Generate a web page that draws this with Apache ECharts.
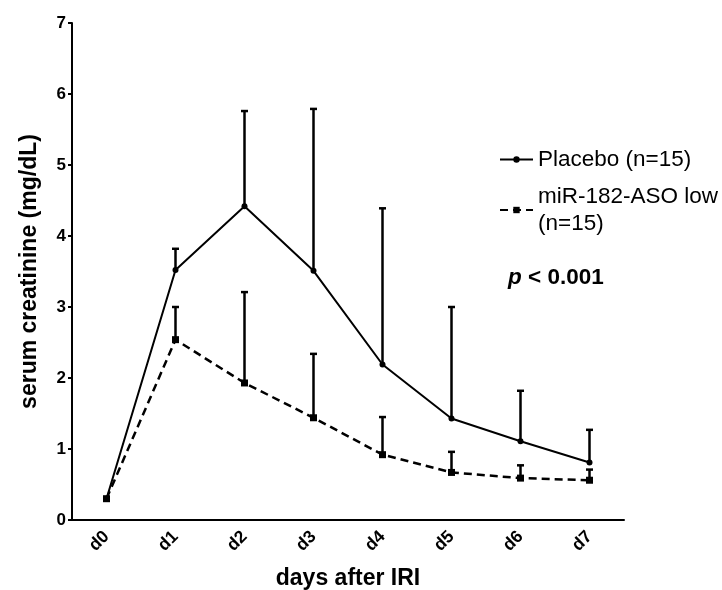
<!DOCTYPE html>
<html>
<head>
<meta charset="utf-8">
<script src="https://cdn.jsdelivr.net/npm/echarts@6/dist/echarts.min.js"></script>
<style>
  html, body { margin: 0; padding: 0; background: #fff; }
  #chart { width: 722px; height: 590px; }
</style>
</head>
<body>
<div id="chart"></div>
<script>
// Serum creatinine after ischemia-reperfusion injury, mean with upper SD bar
const days = ['d0', 'd1', 'd2', 'd3', 'd4', 'd5', 'd6', 'd7'];
const placeboMean = [0.30, 3.52, 4.42, 3.51, 2.19, 1.43, 1.11, 0.81];
const placeboUpper = [0.30, 3.82, 5.76, 5.79, 4.39, 3.00, 1.82, 1.27];
const asoMean = [0.30, 2.54, 1.93, 1.44, 0.92, 0.67, 0.59, 0.56];
const asoUpper = [0.30, 3.00, 3.21, 2.34, 1.45, 0.96, 0.77, 0.71];
const yTicks = [0, 1, 2, 3, 4, 5, 6, 7];

const FONT = '"Liberation Sans", Arial, sans-serif';

function errorSeries(name, means, uppers) {
  return {
    type: 'custom',
    name: name + ' SD',
    z: 1,
    silent: true,
    data: means.map((m, i) => [i, m, uppers[i]]),
    renderItem(params, api) {
      const base = api.coord([api.value(0), api.value(1)]);
      const top = api.coord([api.value(0), api.value(2)]);
      if (Math.abs(base[1] - top[1]) < 1) return null;
      const cap = 3.5;
      const style = { stroke: '#000', lineWidth: 2.5 };
      return {
        type: 'group',
        children: [
          { type: 'line', shape: { x1: base[0], y1: base[1], x2: top[0], y2: top[1] }, style },
          { type: 'line', shape: { x1: top[0] - cap, y1: top[1], x2: top[0] + cap, y2: top[1] }, style }
        ]
      };
    }
  };
}

const chart = echarts.init(document.getElementById('chart'));
chart.setOption({
  animation: false,
  backgroundColor: '#fff',
  textStyle: { fontFamily: FONT },
  grid: { left: 72, right: 98, top: 23, bottom: 70, outerBoundsMode: 'none', containLabel: false },
  legend: {
    orient: 'vertical',
    left: 494,
    top: 141,
    itemWidth: 33,
    itemHeight: 8,
    itemGap: 10,
    selectedMode: false,
    textStyle: { fontFamily: FONT, fontSize: 22.5, color: '#000', lineHeight: 27 },
    data: [
      { name: 'Placebo (n=15)' },
      { name: 'miR-182-ASO low\n(n=15)' }
    ]
  },
  xAxis: {
    type: 'category',
    data: days,
    boundaryGap: true,
    name: 'days after IRI',
    nameLocation: 'middle',
    nameGap: 47,
    nameTextStyle: { fontFamily: FONT, fontSize: 23, fontWeight: 'bold', color: '#000' },
    axisLine: { lineStyle: { color: '#000', width: 2 } },
    axisTick: { alignWithLabel: true, length: 5, lineStyle: { color: '#000', width: 2 } },
    axisLabel: {
      rotate: 45, margin: 14, color: '#000',
      fontFamily: FONT, fontSize: 17.5, fontWeight: 'bold'
    }
  },
  yAxis: {
    type: 'value',
    min: yTicks[0],
    max: yTicks[yTicks.length - 1],
    interval: 1,
    name: 'serum creatinine (mg/dL)',
    nameLocation: 'middle',
    nameGap: 31,
    nameTextStyle: { fontFamily: FONT, fontSize: 23, fontWeight: 'bold', color: '#000' },
    splitLine: { show: false },
    axisLine: { show: true, lineStyle: { color: '#000', width: 2 } },
    axisTick: { show: true, length: 4, lineStyle: { color: '#000', width: 2 } },
    axisLabel: {
      margin: 6, color: '#000',
      fontFamily: FONT, fontSize: 17, fontWeight: 'bold'
    }
  },
  series: [
    errorSeries('Placebo', placeboMean, placeboUpper),
    errorSeries('ASO', asoMean, asoUpper),
    {
      type: 'line',
      name: 'Placebo (n=15)',
      data: placeboMean,
      z: 3,
      symbol: 'circle',
      symbolSize: 6,
      itemStyle: { color: '#000' },
      lineStyle: { color: '#000', width: 2 }
    },
    {
      type: 'line',
      name: 'miR-182-ASO low\n(n=15)',
      data: asoMean,
      z: 2,
      symbol: 'rect',
      symbolSize: 7,
      itemStyle: { color: '#000' },
      lineStyle: { color: '#000', width: 2.5, type: [8, 5] }
    }
  ],
  graphic: [
    {
      type: 'text',
      left: 508,
      top: 266,
      style: {
        text: '{p|p} < 0.001',
        fontFamily: FONT,
        fontSize: 22.5,
        fontWeight: 'bold',
        fill: '#000',
        rich: { p: { fontFamily: FONT, fontSize: 22.5, fontWeight: 'bold', fontStyle: 'italic' } }
      }
    }
  ]
});
</script>
</body>
</html>
